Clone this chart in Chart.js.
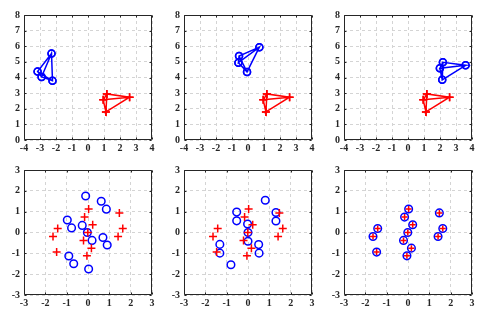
<!DOCTYPE html>
<html><head><meta charset="utf-8">
<script src="https://cdn.jsdelivr.net/npm/chart.js@4/dist/chart.umd.min.js"></script>
<style>
html,body{margin:0;padding:0;background:#fff;width:484px;height:315px;overflow:hidden;position:relative}
canvas{position:absolute}
</style></head><body>
<script>
// ---- data ----
// top row: red tetrahedron (same in all three panels)
const redTopX = [1.18, 0.95, 1.12, 2.60];
const redTopY = [2.95, 2.57, 1.80, 2.74];
// top row: blue tetrahedron per panel
const blueTopX1 = [-2.28, -3.15, -2.90, -2.22];
const blueTopY1 = [5.54, 4.38, 4.04, 3.79];
const blueTopX2 = [0.71, -0.56, -0.60, -0.06];
const blueTopY2 = [5.94, 5.37, 4.95, 4.36];
const blueTopX3 = [2.18, 1.99, 3.60, 2.14];
const blueTopY3 = [4.97, 4.59, 4.78, 3.85];
// order in which the 4 vertices are joined (all six edges), null = pen up
const edgeOrder = [0, 1, 2, 0, 3, 2, null, 1, 3];
// bottom row: red target points (same in all three panels)
const redBotX = [0.03, -0.16, 0.22, -0.01, -0.21, 0.16, -0.05, 1.47, 1.63, 1.41, -1.42, -1.64, -1.47];
const redBotY = [1.13, 0.74, 0.37, 0.00, -0.38, -0.75, -1.12, 0.94, 0.19, -0.19, 0.19, -0.19, -0.94];
// bottom row: blue points per panel
const blueBotX1 = [-0.11, 0.62, 0.86, -0.97, -0.77, -0.27, -0.03, 0.19, 0.70, 0.90, -0.90, -0.67, 0.03];
const blueBotY1 = [1.75, 1.50, 1.12, 0.60, 0.22, 0.34, 0.00, -0.38, -0.24, -0.60, -1.13, -1.50, -1.75];
const blueBotX2 = [0.81, -0.53, -0.53, -0.02, 0.00, 0.00, 1.31, 1.31, -1.32, -1.32, 0.50, 0.52, -0.80];
const blueBotY2 = [1.55, 0.98, 0.56, 0.41, 0.00, -0.42, 0.96, 0.55, -0.57, -0.99, -0.58, -0.99, -1.55];
const blueBotX3 = redBotX.slice();
const blueBotY3 = redBotY.slice();

const topXTicks = [-4, 4];
const topYTicks = [0, 8];
const botXTicks = [-3, 3];
const botYTicks = [-3, 3];

// ---- helpers ----
function pathPts(xs, ys) {
  return edgeOrder.map(i => i === null ? {x: null, y: null} : {x: xs[i], y: ys[i]});
}
function pts(xs, ys) { return xs.map((x, i) => ({x: x, y: ys[i]})); }

const BLUE = '#0000ff', RED = '#ff0000';
const FONT = {family: '"Liberation Serif", "Times New Roman", serif', size: 10, weight: 'bold'};

const boxPlugin = {
  id: 'box',
  afterDraw(chart) {
    const a = chart.chartArea, ctx = chart.ctx;
    const xs = chart.scales.x, ys = chart.scales.y;
    ctx.save();
    ctx.strokeStyle = '#262626';
    ctx.lineWidth = 1;
    ctx.setLineDash([]);
    ctx.beginPath();
    const L = Math.round(a.left) + 0.5, R = Math.round(a.right) - 0.5;
    const T = Math.round(a.top) + 0.5, B = Math.round(a.bottom) - 0.5;
    ctx.rect(L, T, R - L, B - T);
    for (let v = xs.min; v <= xs.max; v++) {
      const px = Math.round(xs.getPixelForValue(v)) + 0.5;
      ctx.moveTo(px, B); ctx.lineTo(px, B - 2);
      ctx.moveTo(px, T); ctx.lineTo(px, T + 2);
    }
    for (let v = ys.min; v <= ys.max; v++) {
      const py = Math.round(ys.getPixelForValue(v)) + 0.5;
      ctx.moveTo(L, py); ctx.lineTo(L + 2, py);
      ctx.moveTo(R, py); ctx.lineTo(R - 2, py);
    }
    ctx.stroke();
    ctx.restore();
  }
};

function makeChart(left, top, w, h, xr, yr, datasets) {
  const padL = 24, padT = 8, padR = 8, padB = 18;
  const c = document.createElement('canvas');
  const W = w + padL + padR, H = h + padT + padB;
  c.width = W; c.height = H;
  c.style.left = (left - padL) + 'px';
  c.style.top = (top - padT) + 'px';
  c.style.width = W + 'px'; c.style.height = H + 'px';
  document.body.appendChild(c);
  const gridCfg = {color: '#d4d4d4', lineWidth: 1, drawTicks: false};
  new Chart(c, {
    type: 'scatter',
    data: {datasets: datasets},
    options: {
      responsive: false, animation: false, devicePixelRatio: 1,
      layout: {padding: {left: 0, top: padT, right: padR, bottom: 0}},
      plugins: {legend: {display: false}, tooltip: {enabled: false}},
      scales: {
        x: {type: 'linear', min: xr[0], max: xr[1],
            ticks: {stepSize: 1, color: '#262626', font: FONT, padding: 2, maxRotation: 0},
            grid: gridCfg, border: {display: false, dash: [3, 3]},
            afterFit(s) { s.height = padB; }},
        y: {type: 'linear', min: yr[0], max: yr[1],
            ticks: {stepSize: 1, color: '#262626', font: FONT, padding: 4},
            grid: gridCfg, border: {display: false, dash: [3, 3]},
            afterFit(s) { s.width = padL; }}
      }
    },
    plugins: [boxPlugin]
  });
}

function lineSet(data, color, style, r) {
  return {data: data, showLine: true, spanGaps: false, borderColor: color, borderWidth: 1.5,
          pointStyle: style, pointRadius: r, pointBorderWidth: 1.5, pointBorderColor: color,
          pointBackgroundColor: 'rgba(0,0,0,0)', backgroundColor: 'rgba(0,0,0,0)', order: style === 'cross' ? 0 : 1};
}
function dotSet(data, color, style, r) {
  return {data: data, showLine: false, borderColor: color, pointStyle: style, pointRadius: r,
          pointBorderWidth: 1.5, pointBorderColor: color,
          pointBackgroundColor: 'rgba(0,0,0,0)', backgroundColor: 'rgba(0,0,0,0)', order: style === 'cross' ? 0 : 1};
}

const colLeft = [24, 184, 344];
const rowTop = [13, 168];
const PW = 128, PH = 127;

const blueTops = [[blueTopX1, blueTopY1], [blueTopX2, blueTopY2], [blueTopX3, blueTopY3]];
const blueBots = [[blueBotX1, blueBotY1], [blueBotX2, blueBotY2], [blueBotX3, blueBotY3]];

for (let k = 0; k < 3; k++) {
  makeChart(colLeft[k], rowTop[0], PW, PH, topXTicks, topYTicks, [
    lineSet(pathPts(blueTops[k][0], blueTops[k][1]), BLUE, 'circle', 3.5),
    lineSet(pathPts(redTopX, redTopY), RED, 'cross', 4)
  ]);
  makeChart(colLeft[k], rowTop[1], PW, PH, botXTicks, botYTicks, [
    dotSet(pts(blueBots[k][0], blueBots[k][1]), BLUE, 'circle', 3.8),
    dotSet(pts(redBotX, redBotY), RED, 'cross', k === 2 ? 3 : 4)
  ]);
}
</script>
</body></html>
